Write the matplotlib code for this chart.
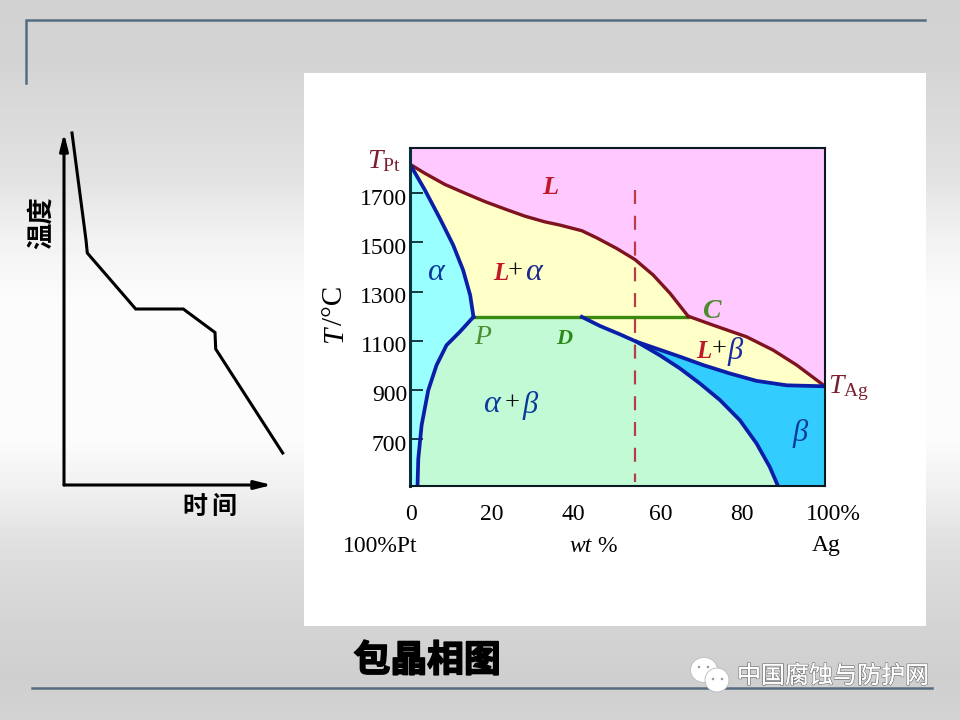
import numpy as np
import matplotlib
matplotlib.use("Agg")
import matplotlib.pyplot as plt
import matplotlib.patheffects as pe
from matplotlib.patches import Ellipse, Rectangle, Polygon
from matplotlib.transforms import ScaledTranslation

CJK = ['Noto Sans CJK SC', 'DejaVu Sans']
SERIF = 'Liberation Serif'
plt.rcParams['mathtext.fontset'] = 'custom'
plt.rcParams['mathtext.rm'] = SERIF
plt.rcParams['mathtext.it'] = SERIF + ':italic'

# phase diagram curves, wt% Ag and temperature
liq_w = [0, 3.6, 8.4, 13.3, 18.1, 22.9, 27.7, 32.5, 36.1, 41.4, 45, 49.8, 54.2, 58.6, 62.7, 67]
liq_t = [1817, 1780, 1735, 1699, 1665, 1635, 1606, 1583, 1570, 1547, 1518, 1475, 1430, 1367, 1292, 1200]
liq2_w = [67, 73.1, 81.1, 87.5, 93.2, 100]
liq2_t = [1200, 1163, 1116, 1062, 1001, 915]
sol_a_w = [0, 3.6, 7.2, 10.4, 12.8, 14.5, 15.3]
sol_a_t = [1817, 1712, 1597, 1489, 1387, 1285, 1197]
solv_a_w = [15.3, 12, 8.8, 6.4, 4.4, 2.8, 2, 1.8]
solv_a_t = [1197, 1136, 1082, 1001, 899, 757, 621, 505]
sol_b_w = [41.4, 45.8, 50.6, 54.6, 65.1, 70.7, 77.1, 83.5, 90.8, 100]
sol_b_t = [1197, 1160, 1126, 1096, 1035, 1001, 967, 937, 919, 915]
solv_b_w = [54.6, 60.2, 65.1, 69.9, 74.7, 79.5, 83.5, 86.7, 88.8]
solv_b_t = [1096, 1041, 987, 926, 859, 777, 683, 587, 505]
peri_w = [15.3, 67]
peri_t = [1197, 1197]
comp_w = [54.3, 54.3]
comp_t = [1712, 525]
y_ticks = [700, 900, 1100, 1300, 1500, 1700]
x_ticks = [0, 20, 40, 60, 80, 100]
x_labels = ['0', '20', '40', '60', '80', '100%']

# cooling curve, arbitrary units from the origin of the small axes
cool_time = [8, 22, 23.3, 71.7, 119.3, 151, 151.7, 218.7]
cool_temp = [352, 245, 232, 176, 176, 152.5, 136, 32]

# background grey, top to bottom
bg_pos = [0, 60, 170, 240, 300, 440, 490, 540, 600, 680, 720]
bg_val = [0.82, 0.83, 0.88, 0.95, 0.985, 0.985, 0.94, 0.88, 0.84, 0.81, 0.83]

fig = plt.figure(figsize=(9.6, 7.2), dpi=100)


def px_axes(x0, y0, x1, y1, **kw):
    return fig.add_axes([x0 / 960, 1 - y1 / 720, (x1 - x0) / 960, (y1 - y0) / 720], **kw)


bg = px_axes(0, 0, 960, 720, zorder=0)
grad = np.interp(np.arange(720), bg_pos, bg_val).reshape(-1, 1)
bg.imshow(grad, cmap='gray', vmin=0, vmax=1, aspect='auto', extent=[0, 960, 720, 0])
bg.set_xlim(0, 960)
bg.set_ylim(720, 0)
bg.axis('off')
bg.add_patch(Rectangle((304, 73), 622, 553, fc='white', ec='none'))
frame = '#566C80'
bg.plot([26, 26, 925], [83, 20, 20], color=frame, lw=1.8, solid_joinstyle='miter')
bg.plot([32, 932], [688, 688], color=frame, lw=1.8)

# phase diagram
ax = px_axes(410, 148, 825, 486, zorder=2)
ax.set_xlim(0, 100)
ax.set_ylim(510, 1883)
ax.set_facecolor('#FFC8FF')


def fill(w, t, color):
    ax.add_patch(Polygon(np.column_stack([w, t]), closed=True, fc=color, ec='none', zorder=1))


fill(liq_w + liq2_w + sol_b_w[::-1] + sol_a_w[::-1], liq_t + liq2_t + sol_b_t[::-1] + sol_a_t[::-1], '#FFFFC8')
fill(sol_a_w + solv_a_w + [0], sol_a_t + solv_a_t + [505], '#99FFFF')
fill(solv_a_w + solv_b_w[::-1] + sol_b_w[:4][::-1], solv_a_t + solv_b_t[::-1] + sol_b_t[:4][::-1], '#C2FAD6')
fill(sol_b_w[3:] + [100] + solv_b_w[::-1], sol_b_t[3:] + [505] + solv_b_t[::-1], '#33CCFF')

red = '#7F1420'
blue = '#0A1EA8'
ax.plot(peri_w, peri_t, color='#3A8A10', lw=2.4, zorder=3)
ax.plot(liq_w, liq_t, color=red, lw=2.4, zorder=4)
ax.plot(liq2_w, liq2_t, color=red, lw=2.4, zorder=4)
for w, t in [(sol_a_w, sol_a_t), (solv_a_w, solv_a_t), (sol_b_w, sol_b_t), (solv_b_w, solv_b_t)]:
    ax.plot(w, t, color=blue, lw=2.7, zorder=5, solid_joinstyle='round')
ax.plot(comp_w, comp_t, color='#B83C4A', lw=1.6, dashes=(6.3, 5.3), zorder=6)

ax.set_yticks(y_ticks)
ax.set_xticks(x_ticks)
ax.set_xticklabels(x_labels)
ax.tick_params(axis='y', direction='in', length=9.5, width=1.3, color='#0C2A30', pad=2,
               labelsize=17, labelfontfamily=SERIF)
ax.tick_params(axis='x', length=0, pad=13, labelsize=17, labelfontfamily=SERIF)
for lab in ax.get_yticklabels():
    lab.set_transform(lab.get_transform() + ScaledTranslation(0, -3.5 / 100, fig.dpi_scale_trans))
for lab, dx in zip(ax.get_xticklabels(), [1, -1, -3, 2, 0, 8]):
    lab.set_transform(lab.get_transform() + ScaledTranslation(dx / 100, 0, fig.dpi_scale_trans))
for s in ax.spines.values():
    s.set_linewidth(1.5)
    s.set_color('#0A1A20')
    s.set_zorder(7)
ax.spines['left'].set_linewidth(2.2)
ax.spines['left'].set_color('#0A3040')

# cooling curve
cool = px_axes(64, 133, 272, 485, zorder=2)
cool.set_xlim(0, 208)
cool.set_ylim(0, 352)
cool.axis('off')
cool.plot(cool_time, cool_temp, color='black', lw=2.2, clip_on=False, solid_joinstyle='miter')
head = '-|>,head_length=1.0,head_width=0.25'
cool.annotate('', xy=(0, 352), xytext=(0, 0), annotation_clip=False,
              arrowprops=dict(arrowstyle=head, color='black', lw=2.2, shrinkA=0, shrinkB=0))
cool.annotate('', xy=(208, 0), xytext=(0, 0), annotation_clip=False,
              arrowprops=dict(arrowstyle=head, color='black', lw=2.2, shrinkA=0, shrinkB=0))

# all labels in pixel positions
top = px_axes(0, 0, 960, 720, zorder=5)
top.set_xlim(0, 960)
top.set_ylim(720, 0)
top.axis('off')


def label(x, y, s, color='black', size=17, style='normal', weight='normal', rot=0, ha='center'):
    top.text(x, y, s, color=color, fontsize=size, style=style, weight=weight, rotation=rot,
             ha=ha, va='center', family=SERIF)


dark_red = '#7A2030'
bright = '#C01828'
alpha_c = '#0A3A9A'
grn = '#4A9030'
label(384, 161, r'$\mathit{T}_{\mathrm{Pt}}$', dark_red, 20)
label(848, 388, r'$\mathit{T}_{\mathrm{Ag}}$', dark_red, 20)
label(550, 187, 'L', bright, 19, 'italic', 'bold')
label(435, 273, 'α', alpha_c, 23, 'italic')
label(501, 273, 'L', bright, 18, 'italic', 'bold')
label(515, 272, '+', '#101010', 19)
label(533, 273, 'α', '#1A2A90', 23, 'italic')
label(483, 338, 'P', grn, 20, 'italic')
label(564, 339, 'D', '#2E8A18', 16, 'italic', 'bold')
label(711, 312, 'C', '#4E8A30', 20, 'italic', 'bold')
label(704, 352, 'L', bright, 18, 'italic', 'bold')
label(719, 350, '+', '#101010', 19)
label(735, 352, 'β', '#1A2AA0', 22, 'italic')
label(800, 433, 'β', alpha_c, 22, 'italic')
label(491, 405, 'α', alpha_c, 23, 'italic')
label(512, 404, '+', '#101010', 19)
label(530, 405, 'β', alpha_c, 22, 'italic')
label(335, 335, 'T', 'black', 21, 'italic', rot=90)
label(335, 305, '/°C', 'black', 21, rot=90)
label(380, 546, '100%Pt')
label(581, 546, 'wt', 'black', 17, 'italic')
label(607, 546, '%')
label(826, 546, 'Ag')

top.text(41, 223, '温度', fontsize=19, weight='bold', rotation=90, ha='center', va='center', family=CJK)
top.text(195, 507, '时', fontsize=18, weight='bold', ha='center', va='center', family=CJK)
top.text(224, 507, '间', fontsize=18, weight='bold', ha='center', va='center', family=CJK)
top.text(427, 661, '包晶相图', fontsize=26.5, weight='bold', ha='center', va='center', family=CJK,
         path_effects=[pe.withStroke(linewidth=1.2, foreground='black')])
top.text(833, 676, '中国腐蚀与防护网', fontsize=17.3, color='white', ha='center', va='center', family=CJK,
         path_effects=[pe.withStroke(linewidth=1.1, foreground='#777777'), pe.Normal()])

# wechat mark
for x, y, w, h in [(704, 670, 27, 25), (717, 680, 24, 24)]:
    top.add_patch(Ellipse((x, y), w, h, fc='white', ec='#BBBBBB', lw=0.6))
for x, y in [(699, 667), (708, 667), (713, 679), (722, 679)]:
    top.add_patch(Ellipse((x, y), 2.5, 2.5, fc='#999999', ec='none'))

fig.savefig('out.png', dpi=100)
